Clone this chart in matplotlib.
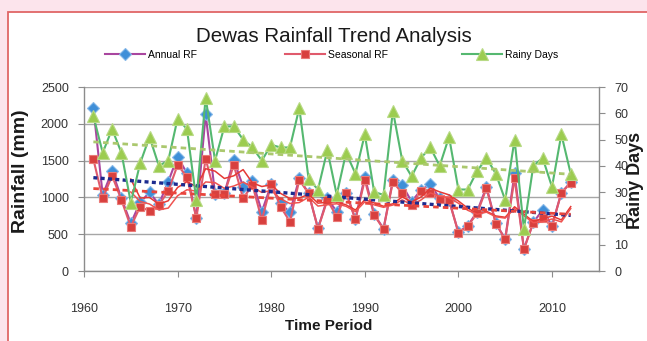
import numpy as np
import matplotlib
matplotlib.use("Agg")
import matplotlib.pyplot as plt
from matplotlib.patches import Rectangle

# ---- data -------------------------------------------------------------
years = np.arange(1961, 2013)

annual_rf = [2219, 1032, 1359, 987, 648, 933, 1069, 906, 1214, 1553,
             1327, 725, 2129, 1050, 1055, 1508, 1146, 1223, 806, 1178,
             920, 795, 1259, 1055, 580, 987, 806, 1065, 705, 1281,
             770, 575, 1236, 1168, 942, 1100, 1178, 987, 965, 525,
             615, 806, 1146, 648, 435, 1327, 300, 660, 829, 615,
             1065, 1205]

seasonal_rf = [1520, 987, 1295, 965, 602, 874, 815, 897, 1087, 1440,
               1281, 720, 1522, 1040, 1050, 1440, 987, 1168, 693, 1178,
               874, 670, 1236, 1055, 575, 965, 738, 1060, 700, 1236,
               760, 570, 1214, 1055, 897, 1087, 1055, 980, 960, 520,
               610, 784, 1123, 645, 430, 1259, 295, 655, 716, 610,
               1060, 1200]

rainy_days = [59, 45, 54, 45, 26, 41, 51, 40, 42, 58,
              54, 27, 66, 42, 55, 55, 50, 47, 42, 48,
              47, 47, 62, 35, 31, 46, 29, 45, 37, 52,
              30, 29, 61, 42, 36, 43, 47, 40, 51, 31,
              31, 38, 43, 37, 27, 50, 16, 40, 43, 32,
              52, 37]

x_ticks = [1960, 1970, 1980, 1990, 2000, 2010]
rf_ticks = [0, 500, 1000, 1500, 2000, 2500]
day_ticks = [0, 10, 20, 30, 40, 50, 60, 70]
ma_window = 5

# ---- styling ----------------------------------------------------------
SANS = ["Liberation Sans", "DejaVu Sans"]
GRID = "#a6a6a6"
AXIS = "#8c8c8c"

W, H = 647, 341
fig = plt.figure(figsize=(W / 100, H / 100), dpi=100)
fig.patch.set_facecolor("#fce4ec")

# white card with a red frame
fig.add_artist(Rectangle((8 / W, -0.1), 1.2, 1.1 - 12 / H,
                         transform=fig.transFigure, facecolor="white",
                         edgecolor="#e06666", lw=1.3, zorder=-1))

left, right, top, bottom = 84, 599, 87, 271
ax = fig.add_axes([left / W, 1 - bottom / H, (right - left) / W, (bottom - top) / H])
ax.set_facecolor("none")
ax2 = ax.twinx()

ax.set_xlim(1960, 1960 + (right - left) / 9.36)
ax.set_ylim(0, 2500)
ax2.set_ylim(0, 70)

# horizontal grid
for v in rf_ticks:
    ax.axhline(v, color=GRID, lw=1.0, zorder=0.5)

# series
l_ann, = ax.plot(years, annual_rf, color="#a9469f", lw=1.5, marker="D", ms=6,
                 mfc="#3f8fd8", mec="#85b8e8", mew=0.8, zorder=2)
l_sea, = ax.plot(years, seasonal_rf, color="#e05a6c", lw=1.5, marker="s", ms=5.5,
                 mfc="#d8403e", mec="#ea7a78", mew=0.8, zorder=2.1)

# moving averages
kernel = np.ones(ma_window) / ma_window
ma_years = years[ma_window - 1:]
ax.plot(ma_years, np.convolve(annual_rf, kernel, mode="valid"),
        color="#e53935", lw=1.1, zorder=2.5)
ax.plot(ma_years, np.convolve(seasonal_rf, kernel, mode="valid"),
        color="#ef5350", lw=1.1, zorder=2.5)

# linear trends
fa = np.polyfit(years, annual_rf, 1)
fs = np.polyfit(years, seasonal_rf, 1)
ax.plot(years, np.polyval(fa, years), color="#1c2b8f", lw=2.4,
        ls=(0, (1.2, 1.0)), zorder=3)
ax.plot(years, np.polyval(fs, years), color="#e8453c", lw=2.0,
        ls=(0, (2.0, 1.5)), zorder=3)

l_rd, = ax2.plot(years, rainy_days, color="#55b870", lw=1.5, marker="^", ms=8,
                 mfc="#9ccc50", mec="#b8da85", mew=0.8, zorder=2)
fr = np.polyfit(years, rainy_days, 1)
ax2.plot(years, np.polyval(fr, years), color="#abc86e", lw=2.0,
         ls=(0, (2.0, 1.5)), zorder=3)

# axes cosmetics
for a in (ax, ax2):
    a.spines["top"].set_visible(False)
    for s in ("left", "right", "bottom"):
        a.spines[s].set_color(AXIS)
        a.spines[s].set_linewidth(1.0)
ax.spines["right"].set_visible(False)
ax2.spines["left"].set_visible(False)
ax2.spines["bottom"].set_visible(False)

ax.set_xticks(x_ticks)
ax.set_yticks(rf_ticks)
ax2.set_yticks(day_ticks)
ax.tick_params(axis="x", direction="out", length=4, color=AXIS, pad=19,
               labelsize=9, labelcolor="#333333")
ax.tick_params(axis="y", direction="out", length=4, color=AXIS, pad=7,
               labelsize=9, labelcolor="#333333")
ax2.tick_params(axis="y", direction="out", length=4, color=AXIS, pad=7,
                labelsize=9, labelcolor="#333333")
for lab in ax.get_xticklabels() + ax.get_yticklabels() + ax2.get_yticklabels():
    lab.set_family(SANS)

# titles and labels
fig.text(333.5 / W, 1 - 37 / H, "Dewas Rainfall Trend Analysis", ha="center",
         va="center", fontsize=14.8, family=SANS, color="#1a1a1a")
fig.text(329 / W, 1 - 326 / H, "Time Period", ha="center", va="center",
         fontsize=11, fontweight="bold", family=SANS, color="#1a1a1a")
fig.text(21 / W, 1 - 171 / H, "Rainfall (mm)", ha="center", va="center",
         rotation=90, fontsize=14, fontweight="bold", family=SANS,
         color="#1a1a1a")
fig.text(636 / W, 1 - 180 / H, "Rainy Days", ha="center", va="center",
         rotation=90, fontsize=13, fontweight="bold", family=SANS,
         color="#1a1a1a")

# legend entries laid out across the top
for handle, name, x0 in ((l_ann, "Annual RF", 105), (l_sea, "Seasonal RF", 285),
                         (l_rd, "Rainy Days", 462)):
    fig.legend([handle], [name], loc="center left",
               bbox_to_anchor=(x0 / W, 1 - 55 / H), frameon=False,
               handlelength=3.8, handletextpad=0.3, borderpad=0,
               borderaxespad=0, prop={"family": SANS, "size": 7.5})

fig.savefig("out.png", dpi=100, facecolor=fig.get_facecolor())
